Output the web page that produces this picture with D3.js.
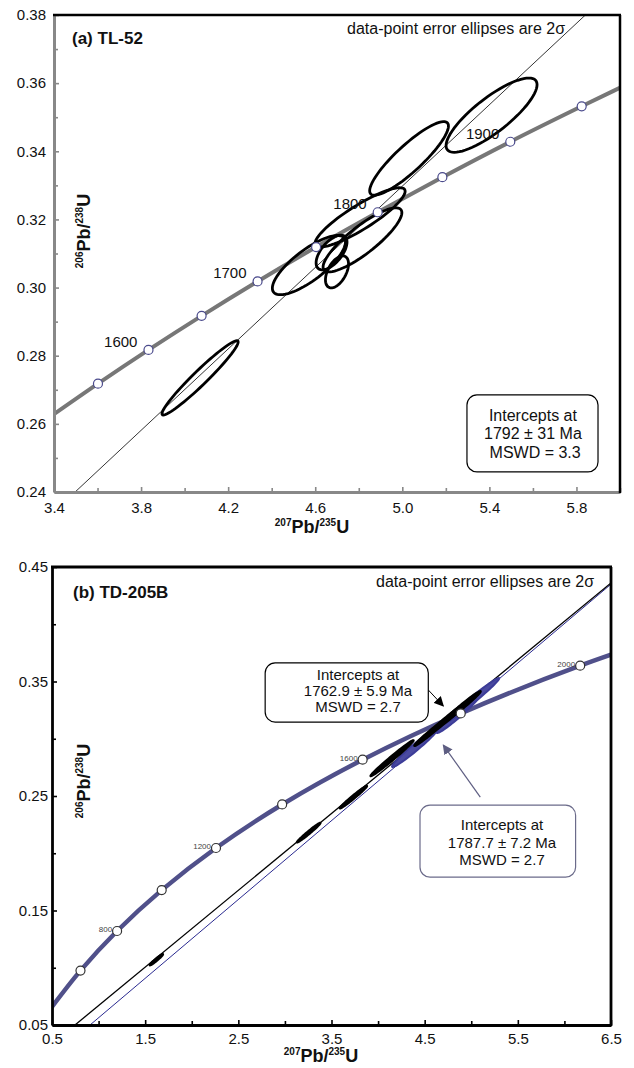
<!DOCTYPE html>
<html>
<head>
<meta charset="utf-8">
<script src="https://cdn.jsdelivr.net/npm/d3@7"></script>
<style>
  body { margin: 0; background: #fff; }
  svg { display: block; }
  text { font-family: "Liberation Sans", Arial, sans-serif; fill: #111; }
</style>
</head>
<body>
<svg id="viz" width="634" height="1068"></svg>
<script>
'use strict';

// ---- panel (a) TL-52 ----
// concordia, 50 Ma steps (age, 207Pb/235U, 206Pb/238U)
const concAges = [1500, 1550, 1600, 1650, 1700, 1750, 1800, 1850, 1900, 1950, 2000];
const concAx = [3.381, 3.602, 3.834, 4.078, 4.335, 4.604, 4.887, 5.184, 5.496, 5.824, 6.169];
const concAy = [0.2620, 0.2718, 0.2817, 0.2917, 0.3018, 0.3119, 0.3221, 0.3324, 0.3428, 0.3532, 0.3638];
const concAMarks = [1550, 1600, 1650, 1700, 1750, 1800, 1850, 1900, 1950];
const concALabels = [1600, 1700, 1800, 1900];

// error ellipses (2 sigma): x, sx, y, sy, rho
const ellAx = [4.071, 4.571, 4.675, 4.700, 4.817, 4.806, 5.031, 5.410];
const ellAsx = [0.175, 0.168, 0.071, 0.053, 0.181, 0.207, 0.181, 0.209];
const ellAy = [0.2735, 0.3066, 0.3103, 0.3046, 0.3140, 0.3206, 0.3379, 0.3506];
const ellAsy = [0.0109, 0.0087, 0.0051, 0.0047, 0.0094, 0.0087, 0.0108, 0.0109];
const ellArho = [0.965, 0.78, 0.60, 0.50, 0.85, 0.88, 0.88, 0.82];

// discordia chord
const discAx = [3.497, 5.841];
const discAy = [0.24, 0.38];

const xTicksA = [3.4, 3.8, 4.2, 4.6, 5.0, 5.4, 5.8];
const xMinorA = [3.6, 4.0, 4.4, 4.8, 5.2, 5.6, 6.0];
const yTicksA = [0.24, 0.26, 0.28, 0.30, 0.32, 0.34, 0.36, 0.38];
const yMinorA = [0.25, 0.27, 0.29, 0.31, 0.33, 0.35, 0.37];

// ---- panel (b) TD-205B ----
const concBages = [400, 600, 800, 1000, 1200, 1400, 1600, 1800, 2000, 2200];
const concBx = [0.4828, 0.8057, 1.1987, 1.6774, 2.2603, 2.9703, 3.834, 4.887, 6.169, 7.729];
const concBy = [0.0640, 0.0975, 0.1321, 0.1678, 0.2046, 0.2426, 0.2817, 0.3221, 0.3638, 0.4067];
const concBMarks = [600, 800, 1000, 1200, 1400, 1600, 1800, 2000];
const concBLabels = [800, 1200, 1600, 2000];

// blue (1787.7 Ma) group, drawn first
const ellBlueX = [4.40, 4.85, 5.00];
const ellBlueSx = [0.25, 0.22, 0.30];
const ellBlueY = [0.2925, 0.3205, 0.3330];
const ellBlueSy = [0.0172, 0.0155, 0.0200];
const ellBlueRho = [0.975, 0.975, 0.985];

// black (1762.9 Ma) group
const ellBlackX = [1.62, 3.255, 3.735, 4.15, 4.57, 4.75, 4.90];
const ellBlackSx = [0.07, 0.125, 0.145, 0.23, 0.18, 0.20, 0.20];
const ellBlackY = [0.107, 0.218, 0.249, 0.283, 0.306, 0.318, 0.328];
const ellBlackSy = [0.0048, 0.0085, 0.0098, 0.0156, 0.0122, 0.0135, 0.0135];
const ellBlackRho = [0.97, 0.985, 0.985, 0.99, 0.985, 0.985, 0.985];

const discBlackX = [0.747, 6.5];
const discBlackY = [0.05, 0.436];
const discBlueX = [0.908, 6.5];
const discBlueY = [0.05, 0.435];

const xTicksB = [0.5, 1.5, 2.5, 3.5, 4.5, 5.5, 6.5];
const xMinorB = [1.0, 2.0, 3.0, 4.0, 5.0, 6.0];
const yTicksB = [0.05, 0.15, 0.25, 0.35, 0.45];
const yMinorB = [0.10, 0.20, 0.30, 0.40];

const svg = d3.select('#viz');

function ellipsePts(cx, sx, cy, sy, rho) {
  const k = Math.sqrt(1 - rho * rho);
  return d3.range(72).map(i => {
    const t = i / 72 * 2 * Math.PI;
    return [cx + sx * Math.cos(t), cy + sy * (rho * Math.cos(t) + k * Math.sin(t))];
  });
}

function ratioLabel(g, a, b, size, supSize) {
  // e.g. 206Pb/238U with small superscripts
  g.append('tspan').attr('font-size', supSize).attr('dy', -size * 0.4).text(a);
  g.append('tspan').attr('font-size', size).attr('dy', size * 0.4).text('Pb/');
  g.append('tspan').attr('font-size', supSize).attr('dy', -size * 0.4).text(b);
  g.append('tspan').attr('font-size', size).attr('dy', size * 0.4).text('U');
}

function drawAxes(g, x, y, o) {
  const [x0, x1] = x.range();
  const [y0, y1] = y.range();

  g.append('g')
    .attr('transform', `translate(0,${y0})`)
    .call(d3.axisBottom(x).tickValues(o.xTicks).tickSizeInner(-o.major)
      .tickSizeOuter(0).tickPadding(o.xPad).tickFormat(d3.format('.1f')));
  g.append('g')
    .attr('transform', `translate(0,${y0})`)
    .call(d3.axisBottom(x).tickValues(o.xMinor).tickSizeInner(-o.minor)
      .tickSizeOuter(0).tickFormat(''))
    .select('.domain').remove();

  g.append('g')
    .attr('transform', `translate(${x0},0)`)
    .call(d3.axisLeft(y).tickValues(o.yTicks).tickSizeInner(-o.major)
      .tickSizeOuter(0).tickPadding(o.yPad).tickFormat(d3.format('.2f')));
  g.append('g')
    .attr('transform', `translate(${x0},0)`)
    .call(d3.axisLeft(y).tickValues(o.yMinor).tickSizeInner(-o.minor)
      .tickSizeOuter(0).tickFormat(''))
    .select('.domain').remove();

  g.selectAll('.tick line').attr('stroke', o.axisColor).attr('stroke-width', 1.6);
  g.selectAll('.domain').attr('stroke', o.axisColor).attr('stroke-width', o.axisWidth);
  g.selectAll('.tick text').attr('font-size', 15).attr('fill', '#111')
    .attr('font-family', '"Liberation Sans", Arial, sans-serif');

  // top and right frame
  g.append('line').attr('x1', x0 - 1).attr('x2', x1 + 1).attr('y1', y1).attr('y2', y1)
    .attr('stroke', '#000').attr('stroke-width', o.frameWidth);
  g.append('line').attr('x1', x1).attr('x2', x1).attr('y1', y1).attr('y2', y0 + 1)
    .attr('stroke', '#000').attr('stroke-width', o.frameWidth);
}

// ================= panel (a) =================
const xA = d3.scaleLinear().domain([3.4, 6.0]).range([54, 620]);
const yA = d3.scaleLinear().domain([0.24, 0.38]).range([492, 15]);
const gA = svg.append('g');

gA.append('clipPath').attr('id', 'clipA').append('rect')
  .attr('x', 54).attr('y', 15).attr('width', 566).attr('height', 477);
const plotA = gA.append('g').attr('clip-path', 'url(#clipA)');

const lineA = d3.line().x(d => xA(d[0])).y(d => yA(d[1]));

plotA.append('path')
  .datum(d3.zip(discAx, discAy))
  .attr('fill', 'none').attr('stroke', '#000').attr('stroke-width', 0.8)
  .attr('d', lineA);

plotA.append('path')
  .datum(d3.zip(concAx, concAy))
  .attr('fill', 'none').attr('stroke', '#777').attr('stroke-width', 4)
  .attr('d', d3.line().x(d => xA(d[0])).y(d => yA(d[1])).curve(d3.curveCatmullRom));

ellAx.forEach((cx, i) => {
  plotA.append('path')
    .datum(ellipsePts(cx, ellAsx[i], ellAy[i], ellAsy[i], ellArho[i]))
    .attr('fill', 'none').attr('stroke', '#000').attr('stroke-width', 2.8)
    .attr('d', d3.line().x(d => xA(d[0])).y(d => yA(d[1])).curve(d3.curveLinearClosed));
});

concAMarks.forEach(age => {
  const i = concAges.indexOf(age);
  plotA.append('circle')
    .attr('cx', xA(concAx[i])).attr('cy', yA(concAy[i])).attr('r', 4.5)
    .attr('fill', '#fff').attr('stroke', '#4a4a8c').attr('stroke-width', 1.2);
});

concALabels.forEach(age => {
  const i = concAges.indexOf(age);
  plotA.append('text')
    .attr('x', xA(concAx[i]) - 11).attr('y', yA(concAy[i]) - 3)
    .attr('text-anchor', 'end').attr('font-size', 15)
    .text(age);
});

drawAxes(gA, xA, yA, {
  xTicks: xTicksA, xMinor: xMinorA, yTicks: yTicksA, yMinor: yMinorA,
  major: 5, minor: 4, xPad: 10, yPad: 8,
  axisColor: '#888', axisWidth: 3, frameWidth: 2.5
});

gA.append('text').attr('x', 72).attr('y', 44)
  .attr('font-size', 17).attr('font-weight', 'bold').text('(a) TL-52');
gA.append('text').attr('x', 565).attr('y', 34).attr('text-anchor', 'end')
  .attr('font-size', 16).text('data-point error ellipses are 2σ');

// intercept box
gA.append('rect')
  .attr('x', xA(5.297)).attr('y', yA(0.2685))
  .attr('width', xA(5.899) - xA(5.297)).attr('height', yA(0.2459) - yA(0.2685))
  .attr('rx', 10).attr('fill', '#fff').attr('stroke', '#000').attr('stroke-width', 1.2);
['Intercepts at', '1792 ± 31 Ma', ' MSWD = 3.3'].forEach((t, i) => {
  gA.append('text').attr('x', xA(5.6)).attr('y', yA(0.2685) + 26 + i * 18.5)
    .attr('text-anchor', 'middle').attr('font-size', 16)
    .attr('xml:space', 'preserve').text(t);
});

// axis titles
const xtA = gA.append('text').attr('x', 312).attr('y', 533).attr('text-anchor', 'middle')
  .attr('font-weight', 'bold');
ratioLabel(xtA, '207', '235', 18, 10);
const ytA = gA.append('text').attr('transform', 'translate(90,231) rotate(-90)')
  .attr('text-anchor', 'middle').attr('font-weight', 'bold');
ratioLabel(ytA, '206', '238', 18, 10);

// ================= panel (b) =================
const xB = d3.scaleLinear().domain([0.5, 6.5]).range([52, 611]);
const yB = d3.scaleLinear().domain([0.05, 0.45]).range([1025, 567]);
const gB = svg.append('g');

gB.append('clipPath').attr('id', 'clipB').append('rect')
  .attr('x', 52).attr('y', 567).attr('width', 559).attr('height', 458);
const plotB = gB.append('g').attr('clip-path', 'url(#clipB)');

const lineB = d3.line().x(d => xB(d[0])).y(d => yB(d[1]));
const closedB = d3.line().x(d => xB(d[0])).y(d => yB(d[1])).curve(d3.curveLinearClosed);

plotB.append('path')
  .datum(d3.zip(concBx, concBy))
  .attr('fill', 'none').attr('stroke', '#50508a').attr('stroke-width', 4.5)
  .attr('d', d3.line().x(d => xB(d[0])).y(d => yB(d[1])).curve(d3.curveCatmullRom));

plotB.append('path')
  .datum(d3.zip(discBlueX, discBlueY))
  .attr('fill', 'none').attr('stroke', '#2a2a90').attr('stroke-width', 1)
  .attr('d', lineB);
plotB.append('path')
  .datum(d3.zip(discBlackX, discBlackY))
  .attr('fill', 'none').attr('stroke', '#000').attr('stroke-width', 1.3)
  .attr('d', lineB);

ellBlueX.forEach((cx, i) => {
  plotB.append('path')
    .datum(ellipsePts(cx, ellBlueSx[i], ellBlueY[i], ellBlueSy[i], ellBlueRho[i]))
    .attr('fill', '#4a4aa0').attr('stroke', '#3c3c98').attr('stroke-width', 2)
    .attr('d', closedB);
});
ellBlackX.forEach((cx, i) => {
  plotB.append('path')
    .datum(ellipsePts(cx, ellBlackSx[i], ellBlackY[i], ellBlackSy[i], ellBlackRho[i]))
    .attr('fill', '#000').attr('stroke', '#000').attr('stroke-width', 2.4)
    .attr('d', closedB);
});

concBMarks.forEach(age => {
  const i = concBages.indexOf(age);
  plotB.append('circle')
    .attr('cx', xB(concBx[i])).attr('cy', yB(concBy[i])).attr('r', 4.5)
    .attr('fill', '#fff').attr('stroke', '#333').attr('stroke-width', 1.2);
});
concBLabels.forEach(age => {
  const i = concBages.indexOf(age);
  plotB.append('text')
    .attr('x', xB(concBx[i]) - 5).attr('y', yB(concBy[i]) + 1)
    .attr('text-anchor', 'end').attr('font-size', 8).style('fill', '#444')
    .text(age);
});

drawAxes(gB, xB, yB, {
  xTicks: xTicksB, xMinor: xMinorB, yTicks: yTicksB, yMinor: yMinorB,
  major: 5, minor: 4, xPad: 8, yPad: 4,
  axisColor: '#000', axisWidth: 2.8, frameWidth: 2.8
});

gB.append('text').attr('x', 73).attr('y', 598)
  .attr('font-size', 17).attr('font-weight', 'bold').text('(b) TD-205B');
gB.append('text').attr('x', 594).attr('y', 587).attr('text-anchor', 'end')
  .attr('font-size', 16).text('data-point error ellipses are 2σ');

// arrow heads
const defs = svg.append('defs');
[['arrBlack', '#000'], ['arrGray', '#5e5e82']].forEach(([id, c]) => {
  defs.append('marker').attr('id', id).attr('viewBox', '0 0 10 10')
    .attr('refX', 9).attr('refY', 5).attr('markerWidth', 10).attr('markerHeight', 10)
    .attr('markerUnits', 'userSpaceOnUse').attr('orient', 'auto')
    .append('path').attr('d', 'M0,0 L10,5 L0,10 Z').attr('fill', c);
});

gB.append('line')
  .attr('x1', xB(4.539)).attr('y1', yB(0.3426)).attr('x2', xB(4.70)).attr('y2', yB(0.3286))
  .attr('stroke', '#000').attr('stroke-width', 1).attr('marker-end', 'url(#arrBlack)');
gB.append('line')
  .attr('x1', xB(5.097)).attr('y1', yB(0.249)).attr('x2', xB(4.70)).attr('y2', yB(0.2945))
  .attr('stroke', '#5e5e82').attr('stroke-width', 1.2).attr('marker-end', 'url(#arrGray)');

function interceptBox(x0, x1, y0, y1, stroke, lines, cx, top, step) {
  gB.append('rect')
    .attr('x', xB(x0)).attr('y', yB(y0))
    .attr('width', xB(x1) - xB(x0)).attr('height', yB(y1) - yB(y0))
    .attr('rx', 10).attr('fill', '#fff').attr('stroke', stroke).attr('stroke-width', 1.2);
  lines.forEach((t, i) => {
    gB.append('text').attr('x', cx).attr('y', yB(y0) + top + i * step)
      .attr('text-anchor', 'middle').attr('font-size', 15).text(t);
  });
}
interceptBox(2.788, 4.539, 0.3662, 0.3146, '#000',
  ['Intercepts at', '1762.9 ± 5.9 Ma', 'MSWD = 2.7'], 358, 17, 16);
interceptBox(4.45, 6.12, 0.2420, 0.1791, '#6b6b8a',
  ['Intercepts at', '1787.7 ± 7.2 Ma', 'MSWD = 2.7'], 502, 25, 17.5);

const xtB = gB.append('text').attr('x', 321).attr('y', 1062).attr('text-anchor', 'middle')
  .attr('font-weight', 'bold');
ratioLabel(xtB, '207', '235', 18, 10);
const ytB = gB.append('text').attr('transform', 'translate(90,781) rotate(-90)')
  .attr('text-anchor', 'middle').attr('font-weight', 'bold');
ratioLabel(ytB, '206', '238', 18, 10);
</script>
</body>
</html>
